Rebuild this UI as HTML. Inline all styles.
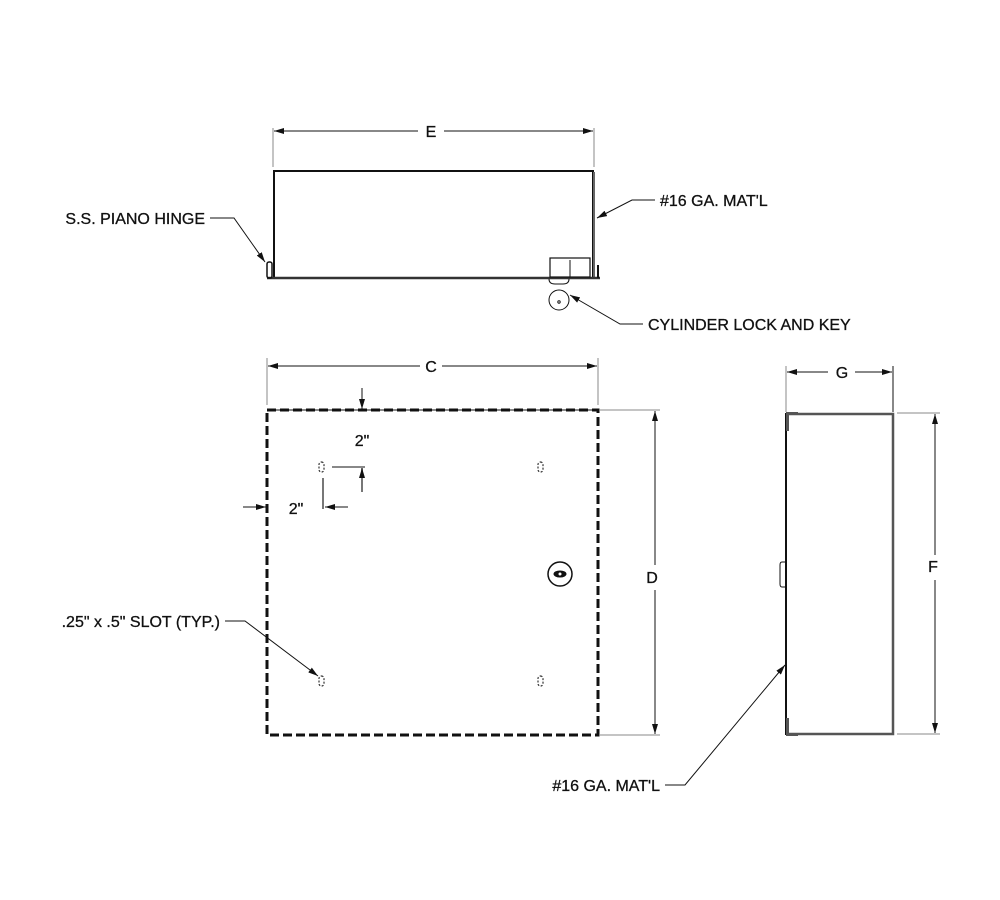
<!DOCTYPE html>
<html><head><style>body{margin:0;background:#fff}svg{display:block}text{font-family:"Liberation Sans",sans-serif;font-size:16px;fill:#111;stroke:#111;stroke-width:0.3}</style></head><body>
<svg width="1000" height="900" viewBox="0 0 1000 900" xmlns="http://www.w3.org/2000/svg">
<defs><marker id="a" viewBox="0 0 10 6" refX="10" refY="3" markerWidth="10" markerHeight="6" orient="auto-start-reverse" markerUnits="userSpaceOnUse"><path d="M0,0L10,3L0,6z" fill="#111"/></marker></defs>
<g stroke="#111" fill="none" stroke-width="1">
<line x1="273" y1="128" x2="273" y2="167" stroke="#888"/>
<line x1="594" y1="128" x2="594" y2="167" stroke="#888"/>
<line x1="274" y1="131" x2="418" y2="131" marker-start="url(#a)"/>
<line x1="444" y1="131" x2="593" y2="131" marker-end="url(#a)"/>
<path d="M274,279V171H593V277" stroke-width="2"/>
<line x1="594" y1="172" x2="594" y2="277" stroke="#666" stroke-width="2"/>
<line x1="267" y1="278" x2="600" y2="278" stroke-width="2.5" stroke="#333"/>
<rect x="267" y="262" width="5" height="16" rx="2" stroke-width="1.5"/>
<line x1="598" y1="265" x2="598" y2="278" stroke-width="2"/>
<rect x="550" y="258" width="40" height="19" stroke-width="1.2"/>
<line x1="570" y1="260" x2="570" y2="277"/>
<path d="M549,279q0,5 6,5h8q6,0 6,-5"/>
<circle cx="559" cy="300" r="10"/>
<circle cx="559" cy="302" r="1.2"/>
<polyline points="210,218 234,218 265,262" marker-end="url(#a)"/>
<polyline points="655,200 632,200 597,218" marker-end="url(#a)"/>
<polyline points="643,324 620,324 570,295" marker-end="url(#a)"/>
<line x1="267" y1="358" x2="267" y2="405" stroke="#888"/>
<line x1="598" y1="358" x2="598" y2="405" stroke="#888"/>
<line x1="268" y1="366" x2="420" y2="366" marker-start="url(#a)"/>
<line x1="442" y1="366" x2="597" y2="366" marker-end="url(#a)"/>
<line x1="267" y1="410" x2="598" y2="410" stroke="#888" stroke-width="2"/>
<rect x="267" y="410" width="331" height="325" stroke-width="3" stroke-dasharray="9,4"/>
<line x1="600" y1="410" x2="660" y2="410" stroke="#888"/>
<line x1="600" y1="735" x2="660" y2="735" stroke="#888"/>
<line x1="655" y1="411" x2="655" y2="565" marker-start="url(#a)"/>
<line x1="655" y1="590" x2="655" y2="734" marker-end="url(#a)"/>
<line x1="362" y1="388" x2="362" y2="409" marker-end="url(#a)"/>
<line x1="332" y1="467" x2="365" y2="467"/>
<line x1="362" y1="492" x2="362" y2="468" stroke="#777" stroke-width="2" marker-end="url(#a)"/>
<line x1="323" y1="478" x2="323" y2="509" stroke="#777" stroke-width="2"/>
<line x1="348" y1="507" x2="325" y2="507" marker-end="url(#a)"/>
<line x1="243" y1="507" x2="266" y2="507" marker-end="url(#a)"/>
<g stroke-dasharray="2,1.5" stroke="#333" stroke-width="1.2"><rect x="319" y="462" width="5" height="10" rx="2.5"/><rect x="538" y="462" width="5" height="10" rx="2.5"/><rect x="319" y="676" width="5" height="10" rx="2.5"/><rect x="538" y="676" width="5" height="10" rx="2.5"/></g>
<circle cx="560" cy="574" r="12" stroke-width="1.5"/>
<ellipse cx="560" cy="574" rx="6" ry="3" fill="#111"/>
<circle cx="560" cy="574" r="1.5" fill="#fff" stroke="none"/>
<polyline points="225,621 245,621 318,676" marker-end="url(#a)"/>
<line x1="786" y1="366" x2="786" y2="412" stroke="#888"/>
<line x1="893" y1="366" x2="893" y2="412" stroke="#888" stroke-width="2"/>
<line x1="787" y1="372" x2="828" y2="372" marker-start="url(#a)"/>
<line x1="855" y1="372" x2="892" y2="372" marker-end="url(#a)"/>
<path d="M786,413V735" stroke-width="2"/>
<path d="M786,414H893V734H786" stroke="#555" stroke-width="2.5"/>
<rect x="786" y="412" width="12" height="3" fill="#555" stroke="none"/>
<rect x="786" y="413" width="3" height="18" fill="#555" stroke="none"/>
<rect x="786" y="718" width="3" height="16" fill="#555" stroke="none"/>
<rect x="786" y="733" width="12" height="3" fill="#555" stroke="none"/>
<path d="M786,562h-4q-2,0 -2,3v19q0,3 2,3h4"/>
<line x1="897" y1="413" x2="940" y2="413" stroke="#888"/>
<line x1="897" y1="734" x2="940" y2="734" stroke="#888"/>
<line x1="935" y1="414" x2="935" y2="555" marker-start="url(#a)"/>
<line x1="935" y1="580" x2="935" y2="733" marker-end="url(#a)"/>
<polyline points="665,785 685,785 785,665" marker-end="url(#a)"/>
</g>
<text x="431" y="137" text-anchor="middle">E</text>
<text x="205" y="224" text-anchor="end">S.S. PIANO HINGE</text>
<text x="660" y="206">#16 GA. MAT'L</text>
<text x="648" y="330">CYLINDER LOCK AND KEY</text>
<text x="431" y="372" text-anchor="middle">C</text>
<text x="362" y="446" text-anchor="middle">2"</text>
<text x="296" y="514" text-anchor="middle">2"</text>
<text x="652" y="583" text-anchor="middle">D</text>
<text x="220" y="627" text-anchor="end">.25" x .5" SLOT (TYP.)</text>
<text x="842" y="378" text-anchor="middle">G</text>
<text x="933" y="572" text-anchor="middle">F</text>
<text x="660" y="791" text-anchor="end">#16 GA. MAT'L</text>
</svg>
</body></html>
